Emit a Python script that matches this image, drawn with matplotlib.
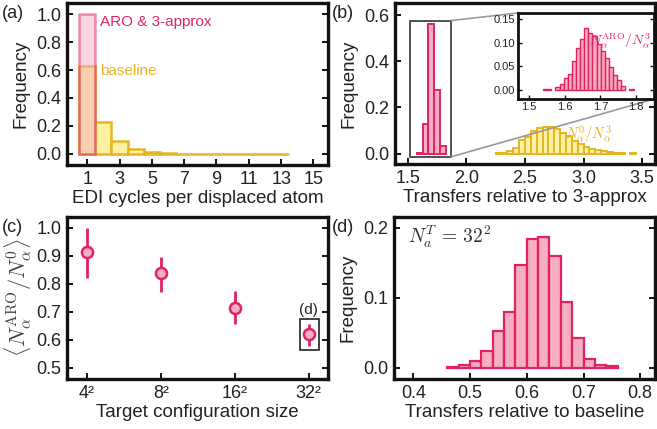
import numpy as np
import matplotlib
matplotlib.use("Agg")
import matplotlib.pyplot as plt
from matplotlib.patches import Rectangle, ConnectionPatch

plt.rcParams["font.family"] = ["Liberation Sans", "DejaVu Sans"]
plt.rcParams["mathtext.fontset"] = "cm"

PINK = "#E2235E"
PINK_FILL = "#F5AEC3"
YELLOW = "#E4B626"
YELLOW_FILL = "#FFF1A0"
TXT = "#222222"

# (a) EDI cycles per displaced atom
edi_cycles = [1, 2, 3, 4, 5, 6, 7, 8, 9, 10, 11, 12, 13]
edi_baseline = [0.63, 0.23, 0.09, 0.035, 0.012, 0.005, 0.002, 0.001, 0.001, 0.001, 0.001, 0.001, 0.001]
edi_aro = [1.0]

# (b) transfers relative to 3-approx
aro3_centers = [1.60, 1.65, 1.70, 1.75, 1.80]
aro3_freq = [0.003, 0.13, 0.56, 0.275, 0.035]
base3_centers = [2.275, 2.325, 2.375, 2.425, 2.475, 2.525, 2.575, 2.625, 2.675, 2.725,
                 2.775, 2.825, 2.875, 2.925, 2.975, 3.025, 3.075, 3.125, 3.175, 3.225,
                 3.275, 3.325, 3.425]
base3_freq = [0.002, 0.002, 0.013, 0.025, 0.058, 0.07, 0.096, 0.111, 0.116, 0.115,
              0.107, 0.088, 0.075, 0.055, 0.04, 0.03, 0.022, 0.016, 0.011, 0.007,
              0.004, 0.002, 0.002]

# (b) inset, fine bins
inset_edges_left = [1.540, 1.5515, 1.5745, 1.586, 1.5975, 1.609, 1.6205, 1.632, 1.6435,
                    1.655, 1.6665, 1.678, 1.6895, 1.701, 1.7125, 1.724, 1.7355, 1.747,
                    1.7585, 1.7815]
inset_freq = [0.001, 0.001, 0.006, 0.012, 0.025, 0.034, 0.06, 0.088, 0.108, 0.132,
              0.121, 0.115, 0.098, 0.082, 0.068, 0.048, 0.032, 0.02, 0.008, 0.001]
inset_width = 0.0115

# (c) mean ratio vs target size
sizes = ["4²", "8²", "16²", "32²"]
ratio_mean = [0.914, 0.837, 0.712, 0.619]
ratio_lo = [0.819, 0.771, 0.658, 0.579]
ratio_hi = [0.998, 0.896, 0.774, 0.658]

# (d) transfers relative to baseline, N = 32^2
base_centers = [0.47, 0.49, 0.51, 0.53, 0.55, 0.57, 0.59, 0.61, 0.63, 0.65, 0.67, 0.69, 0.71, 0.73, 0.75]
base_freq = [0.001, 0.004, 0.010, 0.024, 0.052, 0.079, 0.146, 0.184, 0.186, 0.159, 0.094, 0.042, 0.012, 0.004, 0.002]

W, H = 657, 429
fig = plt.figure(figsize=(W / 100, H / 100), dpi=100)


def px_axes(x0, x1, y0, y1):
    return fig.add_axes([x0 / W, 1 - y1 / H, (x1 - x0) / W, (y1 - y0) / H])


def style(ax, size=13, lw=2.4):
    for s in ax.spines.values():
        s.set_linewidth(lw)
        s.set_color("#111111")
    ax.tick_params(direction="in", length=4, width=1.4, right=True, top=False,
                   labelsize=size, colors="#111111", labelcolor=TXT, pad=4)


ax_a = px_axes(67, 328, 3, 165)
ax_b = px_axes(395, 655, 3, 164)
ax_c = px_axes(67, 328, 217, 379)
ax_d = px_axes(394, 655, 217, 379)
for ax in (ax_a, ax_b, ax_c, ax_d):
    style(ax)

LABEL_FS = 13.5

# (a)
ax_a.bar(edi_cycles, edi_baseline, width=1.0, color=YELLOW_FILL, edgecolor=YELLOW, linewidth=1.8)
ax_a.bar([1], edi_aro, width=1.0, color=PINK_FILL, edgecolor=PINK, linewidth=1.8, alpha=0.5)
ax_a.set_xlim(-0.25, 15.9)
ax_a.set_ylim(-0.08, 1.08)
ax_a.set_xticks([1, 3, 5, 7, 9, 11, 13, 15])
ax_a.set_yticks([0.0, 0.2, 0.4, 0.6, 0.8, 1.0])
ax_a.yaxis.set_major_formatter(matplotlib.ticker.FormatStrFormatter("%.1f"))
ax_a.set_xlabel("EDI cycles per displaced atom", fontsize=LABEL_FS, color=TXT, labelpad=2)
ax_a.set_ylabel("Frequency", fontsize=LABEL_FS, color=TXT, labelpad=5)
ax_a.text(1.82, 0.945, "ARO & 3-approx", color=PINK, fontsize=11, va="center")
ax_a.text(1.82, 0.59, "baseline", color=YELLOW, fontsize=11, va="center")

# (b)
ax_b.bar(base3_centers, base3_freq, width=0.05, color=YELLOW_FILL, edgecolor=YELLOW, linewidth=1.4)
ax_b.bar(aro3_centers, aro3_freq, width=0.05, color=PINK_FILL, edgecolor=PINK, linewidth=1.4)
ax_b.set_xlim(1.39, 3.61)
ax_b.set_ylim(-0.045, 0.652)
ax_b.set_xticks([1.5, 2.0, 2.5, 3.0, 3.5])
ax_b.set_yticks([0.0, 0.2, 0.4, 0.6])
ax_b.yaxis.set_major_formatter(matplotlib.ticker.FormatStrFormatter("%.1f"))
ax_b.set_xlabel("Transfers relative to 3-approx", fontsize=LABEL_FS, color=TXT, labelpad=2)
ax_b.set_ylabel("Frequency", fontsize=LABEL_FS, color=TXT, labelpad=5)
ax_b.text(2.84, 0.085, r"$N_\alpha^0/N_\alpha^3$", color=YELLOW, fontsize=10.5, va="center", zorder=4)
ax_b.add_patch(Rectangle((1.518, -0.014), 0.351, 0.59, facecolor="none",
                         edgecolor="#444444", linewidth=1.3, zorder=3))

ax_in = px_axes(518, 654, 13, 99)
ax_in.set_zorder(5)
ax_in.set_facecolor("white")
style(ax_in, size=8, lw=2.0)
ax_in.tick_params(length=3, width=1.0, pad=2)
ax_in.bar(inset_edges_left, inset_freq, width=inset_width, align="edge",
          color=PINK_FILL, edgecolor=PINK, linewidth=1.0)
ax_in.set_xlim(1.47, 1.85)
ax_in.set_ylim(-0.02, 0.163)
ax_in.set_xticks([1.5, 1.6, 1.7, 1.8])
ax_in.set_yticks([0.0, 0.05, 0.10, 0.15])
ax_in.yaxis.set_major_formatter(matplotlib.ticker.FormatStrFormatter("%.2f"))
ax_in.text(0.975, 0.68, r"$N_\alpha^{\rm ARO}/N_\alpha^3$", color=PINK, fontsize=10,
           ha="right", va="center", transform=ax_in.transAxes, clip_on=False, zorder=6)

for xy_main, xy_in in (((1.869, 0.576), (0, 1)), ((1.869, -0.014), (1, 0))):
    con = ConnectionPatch(xyA=xy_main, coordsA=ax_b.transData, xyB=xy_in,
                          coordsB=ax_in.transAxes, color="#999999", linewidth=1.2, zorder=2)
    fig.add_artist(con)

# (c)
xpos = np.arange(len(sizes))
yerr = [np.array(ratio_mean) - np.array(ratio_lo), np.array(ratio_hi) - np.array(ratio_mean)]
ax_c.errorbar(xpos, ratio_mean, yerr=yerr, fmt="o", color=PINK, ecolor=PINK, elinewidth=2.0,
              capsize=0, markersize=8, markerfacecolor=PINK_FILL, markeredgecolor=PINK,
              markeredgewidth=1.8)
ax_c.set_xlim(-0.27, 3.26)
ax_c.set_ylim(0.46, 1.038)
ax_c.set_xticks(xpos)
ax_c.set_xticklabels(sizes)
ax_c.set_yticks([0.5, 0.6, 0.7, 0.8, 0.9, 1.0])
ax_c.yaxis.set_major_formatter(matplotlib.ticker.FormatStrFormatter("%.1f"))
ax_c.set_xlabel("Target configuration size", fontsize=LABEL_FS, color=TXT, labelpad=2)
ax_c.set_ylabel(r"$\langle N_\alpha^{\rm ARO}/N_\alpha^0\rangle$", fontsize=16, color="#444444", labelpad=2)
ax_c.add_patch(Rectangle((2.885, 0.563), 0.255, 0.111, facecolor="none",
                         edgecolor="#222222", linewidth=1.2))
ax_c.text(3.0, 0.706, "(d)", fontsize=11, color=TXT, ha="center", va="center")

# (d)
ax_d.bar(base_centers, base_freq, width=0.02, color=PINK_FILL, edgecolor=PINK, linewidth=1.6)
ax_d.set_xlim(0.366, 0.826)
ax_d.set_ylim(-0.016, 0.215)
ax_d.set_xticks([0.4, 0.5, 0.6, 0.7, 0.8])
ax_d.set_yticks([0.0, 0.1, 0.2])
ax_d.yaxis.set_major_formatter(matplotlib.ticker.FormatStrFormatter("%.1f"))
ax_d.set_xlabel("Transfers relative to baseline", fontsize=LABEL_FS, color=TXT, labelpad=2)
ax_d.set_ylabel("Frequency", fontsize=LABEL_FS, color=TXT, labelpad=5)
ax_d.text(0.39, 0.186, r"$N_a^T\, =\, 32^2$", fontsize=14, color="#333333", va="center")

# panel letters
for (x, y), lab in zip([(2, 14), (332, 14), (2, 228), (332, 228)], ["(a)", "(b)", "(c)", "(d)"]):
    fig.text(x / W, 1 - y / H, lab, fontsize=13, color=TXT, va="center", ha="left")

fig.savefig("out.png", dpi=100)
